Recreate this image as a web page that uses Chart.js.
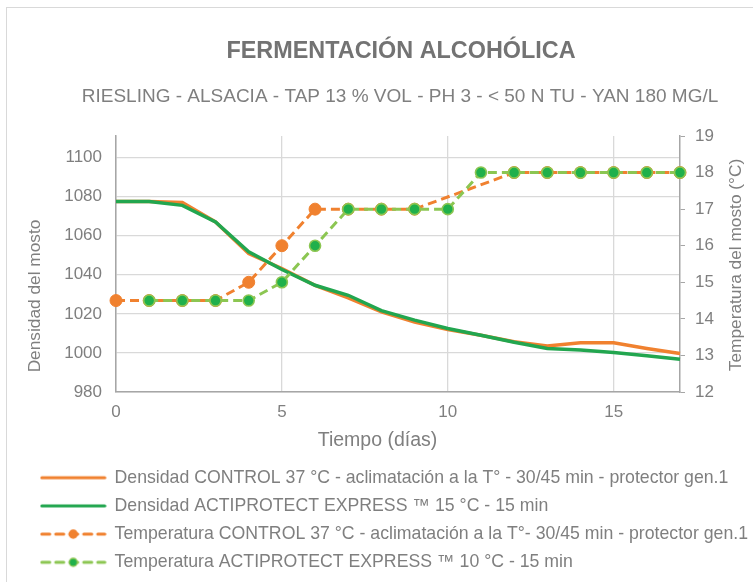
<!DOCTYPE html>
<html><head><meta charset="utf-8">
<script src="https://cdn.jsdelivr.net/npm/chart.js@4.4.1/dist/chart.umd.min.js"></script>
<style>
html,body{margin:0;padding:0;background:#fff;overflow:hidden}
#wrap{position:relative;width:753px;height:582px}
</style></head><body>
<div id="wrap"><canvas id="c" width="753" height="582"></canvas></div>
<script>
// ---- data ----
const days = [0,1,2,3,4,5,6,7,8,9,10,11,12,13,14,15,16,17];
const densControl = [1077.5,1077.5,1077,1067,1050.8,1043.2,1034.6,1028.2,1021,1015.8,1012,1009,1005.7,1003.5,1005.2,1005.2,1002.3,999.7];
const densActi    = [1077.5,1077.5,1075.5,1067,1051.7,1042.7,1034.6,1029.5,1021.6,1016.8,1012.5,1009,1005.5,1002.3,1001.5,1000.2,998.5,996.7];
const tempControl = [14.5,14.5,14.5,14.5,15,16,17,17,17,17,null,null,18,18,18,18,18,18];
const tempActi    = [null,14.5,14.5,14.5,14.5,15,16,17,17,17,17,18,18,18,18,18,18,18];
const seriesLabels = [
  'Densidad CONTROL 37 °C - aclimatación a la T° - 30/45 min - protector gen.1',
  'Densidad ACTIPROTECT EXPRESS \u2122 15 °C - 15 min',
  'Temperatura CONTROL 37 °C - aclimatación a la T°- 30/45 min - protector gen.1',
  'Temperatura ACTIPROTECT EXPRESS \u2122 10 °C - 15 min'
];
const titleText = 'FERMENTACIÓN ALCOHÓLICA';
const subtitleText = 'RIESLING - ALSACIA - TAP 13 % VOL - PH 3 - < 50 N TU - YAN 180 MG/L';
const xTitle = 'Tiempo (días)';
const yLeftTitle = 'Densidad del mosto';
const yRightTitle = 'Temperatura del mosto (°C)';

// ---- styles ----
const ORANGE = '#F0812F', GREEN = '#22A64F', LGREEN = '#8CC652', MGREEN = '#20B04B';
const GRID = '#D9D9D9', AXIS = '#A6A6A6', TXT = '#7F7F7F';
const FONT = "'Liberation Sans', Arial, sans-serif";

function pts(arr){ return days.map((d,i)=>({x:d, y:arr[i]})); }

function legendIcon(color, dash, marker, mfill, mborder){
  const c = document.createElement('canvas'); c.width = 67; c.height = 12;
  const g = c.getContext('2d');
  g.strokeStyle = color; g.lineWidth = 3; g.lineCap = 'round'; g.setLineDash(dash);
  g.beginPath(); g.moveTo(2,6); g.lineTo(65,6); g.stroke();
  if (marker){ g.setLineDash([]); g.beginPath(); g.arc(33.5,6,4,0,Math.PI*2); g.fillStyle=mfill; g.fill(); g.lineWidth=1.3; g.strokeStyle=mborder; g.stroke(); }
  return c;
}
const icons = [
  legendIcon(LGREEN,[8,6],true,MGREEN,LGREEN),
  legendIcon(ORANGE,[8,6],true,ORANGE,ORANGE),
  legendIcon(GREEN,[],false),
  legendIcon(ORANGE,[],false)
];
const legendRank = [3,2,1,0];

const frame = { id:'frame', beforeDraw(chart){ const g=chart.ctx; g.save(); g.strokeStyle=GRID; g.lineWidth=1; g.strokeRect(6.5,7.5,900,900); g.restore(); } };
const texts = { id:'texts', afterDraw(chart){
  const g = chart.ctx, ca = chart.chartArea; const cx = (ca.left+ca.right)/2;
  g.save(); g.textBaseline='middle'; g.textAlign='center';
  g.fillStyle='#737373'; g.font="bold 23.4px "+FONT; g.fillText(titleText, cx+3, 52);
  g.fillStyle=TXT; g.font="19px "+FONT; g.fillText(subtitleText, cx+2, 97);
  g.font="19.5px "+FONT; g.fillText(xTitle, 377.5, 441);
  g.font="17.3px "+FONT;
  g.save(); g.translate(35,296); g.rotate(-Math.PI/2); g.fillText(yLeftTitle,0,0); g.restore();
  g.save(); g.translate(736,265); g.rotate(-Math.PI/2); g.fillText(yRightTitle,0,0); g.restore();
  g.restore();
}};

new Chart(document.getElementById('c'), {
  type:'line',
  data:{ datasets:[
    { label:seriesLabels[3], data:pts(tempActi), yAxisID:'yT', borderColor:LGREEN, borderWidth:3, borderDash:[9,5],
      pointRadius:5.5, pointBackgroundColor:MGREEN, pointBorderColor:LGREEN, pointBorderWidth:1.6, spanGaps:true, clip:false },
    { label:seriesLabels[2], data:pts(tempControl), yAxisID:'yT', borderColor:ORANGE, borderWidth:3, borderDash:[9,5],
      pointRadius:6, pointBackgroundColor:ORANGE, pointBorderColor:ORANGE, pointBorderWidth:1, spanGaps:true, clip:false },
    { label:seriesLabels[1], data:pts(densActi), yAxisID:'y', borderColor:GREEN, borderWidth:3.5, pointRadius:0, clip:false },
    { label:seriesLabels[0], data:pts(densControl), yAxisID:'y', borderColor:ORANGE, borderWidth:3.5, pointRadius:0, clip:false }
  ]},
  options:{
    responsive:false, animation:false, devicePixelRatio:1,
    layout:{ padding:{ left:30.2, right:0, top:136, bottom:0.85 } },
    plugins:{
      tooltip:{enabled:false},
      legend:{ position:'bottom', align:'start',
        labels:{ usePointStyle:true, pointStyleWidth:65, boxHeight:18, padding:10.5, color:TXT,
          font:{ family:FONT, size:17.7 },
          sort:(a,b)=>legendRank[a.datasetIndex]-legendRank[b.datasetIndex],
          generateLabels(chart){
            const items = Chart.defaults.plugins.legend.labels.generateLabels(chart);
            items.forEach(it=>{ it.pointStyle = icons[it.datasetIndex]; it.fontColor = TXT; });
            return items;
          } } }
    },
    scales:{
      x:{ type:'linear', min:0, max:17,
        ticks:{ stepSize:5, includeBounds:false, color:TXT, padding:10, font:{family:FONT, size:17}, callback:v=>String(v) },
        grid:{ color:GRID, lineWidth:1.3, drawTicks:false }, border:{ color:AXIS, width:1.5 },
        afterFit(s){ s.height = 66.35; } },
      y:{ position:'left', min:980, max:1111,
        ticks:{ stepSize:20, includeBounds:false, color:TXT, padding:14, font:{family:FONT, size:17}, callback:v=>String(v) },
        grid:{ color:GRID, lineWidth:1.3, drawTicks:false }, border:{ color:AXIS, width:1.5 },
        afterFit(s){ s.width = 85.8; } },
      yT:{ position:'right', min:12, max:19,
        ticks:{ stepSize:1, color:TXT, padding:10, font:{family:FONT, size:17}, callback:v=>String(v) },
        grid:{ drawOnChartArea:false, drawTicks:true, tickLength:5, color:AXIS }, border:{ color:AXIS, width:1.5 },
        afterFit(s){ s.width = 73; } }
    }
  },
  plugins:[frame, texts]
});
</script>
</body></html>
